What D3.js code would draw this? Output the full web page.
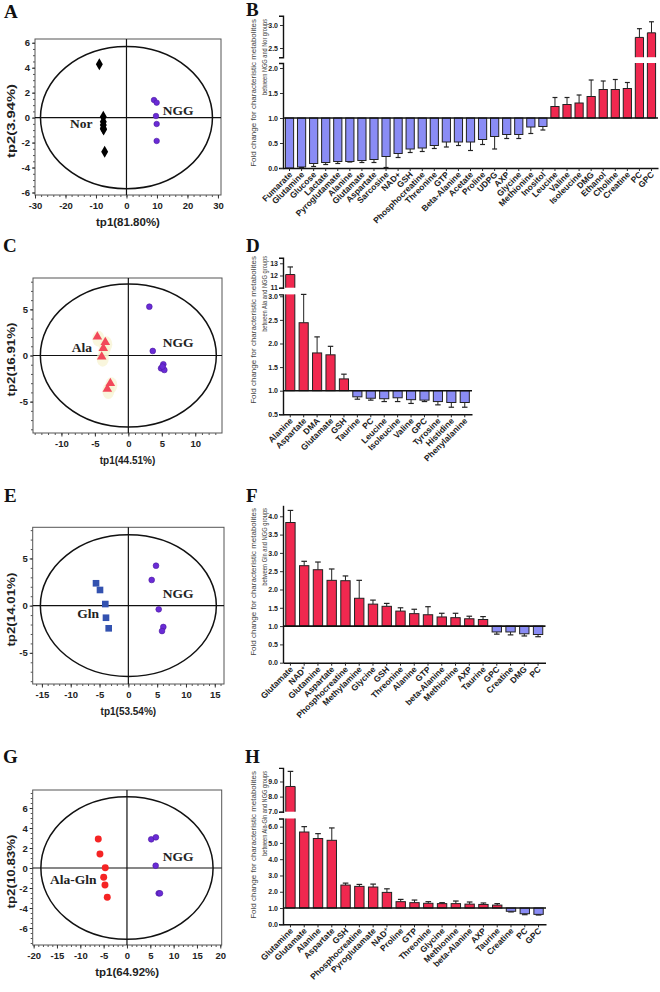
<!DOCTYPE html>
<html><head><meta charset="utf-8">
<script src="https://cdn.jsdelivr.net/npm/d3@7"></script>
<style>body{margin:0;background:#fff}svg{display:block}</style>
</head><body>
<svg id="c" width="660" height="992"></svg>
<script>
const SANS='"Liberation Sans", Arial, Helvetica, sans-serif';
const SERIF='"Liberation Serif", "Times New Roman", serif';
const RED='#f0284f', BLUE='#8a8cf5', PURPLE='#6a2bd6';

// ===== Score plot data (t1, t2) =====
const A_nor=[[-8.9,4.27],[-7.6,0.07],[-7.6,-0.33],[-7.6,-0.59],[-7.6,-0.86],[-7.5,-0.95],[-7.15,-2.73]];
const A_ngg=[[9.02,1.41],[9.9,1.2],[9.68,0.13],[9.9,-0.51],[9.9,-1.87]];
const A_ellipse=[28.2,5.7];
const A_xTicks=[-30,-20,-10,0,10,20,30], A_yTicks=[-6,-4,-2,0,2,4,6];

const C_ala=[[-4.63,2.04],[-3.44,1.43],[-3.74,0.78],[-3.98,-0.13],[-2.69,-3.01],[-3.14,-3.63]];
const C_ngg=[[3.14,5.29],[3.65,0.49],[5.23,-0.95],[4.89,-1.39],[5.38,-1.57],[5.1,-1.2]];
const C_ellipse=[13.15,7.75];
const C_xTicks=[-10,-5,0,5,10], C_yTicks=[-5,0,5];

const E_gln=[[-5.61,2.37],[-4.92,1.66],[-4.0,0.17],[-3.88,-1.28],[-3.41,-2.4]];
const E_ngg=[[4.8,4.23],[4.05,2.72],[5.27,-0.39],[6.07,-2.26],[5.84,-2.69]];
const E_ellipse=[15.27,7.5];
const E_xTicks=[-15,-10,-5,0,5,10,15], E_yTicks=[-5,0,5];

const G_alagln=[[-6.15,2.9],[-5.79,1.4],[-4.65,0.03],[-4.99,-0.93],[-4.71,-1.7],[-4.22,-2.93]];
const G_ngg=[[5.2,2.87],[6.2,3.07],[6.15,0.23],[6.8,-2.53],[7.07,-2.53]];
const G_ellipse=[18.45,7.13];
const G_xTicks=[-20,-15,-10,-5,0,5,10,15,20], G_yTicks=[-6,-4,-2,0,2,4,6];

// ===== Fold change data =====
const B_cats=["Fumarate","Glutamine","Glucose","Lactate","Pyroglutamate","Alanine","Glutamate","Aspartate","Sarcosine","NAD+","GSH","Phosphocreatine","Threonine","GTP","Beta-Alanine","Acetate","Proline","UDPG","AXP","Glycine","Methionine","Inositol","Leucine","Valine","Isoleucine","DMG","Ethanol","Choline","Creatine","PC","GPC"];
const B_vals=[0.0,0.02,0.09,0.11,0.13,0.13,0.15,0.17,0.23,0.29,0.38,0.40,0.45,0.52,0.52,0.52,0.57,0.63,0.67,0.67,0.82,0.83,1.23,1.27,1.30,1.43,1.57,1.57,1.59,2.73,2.83];
const B_errs=[0,0.01,0.06,0.04,0.04,0.01,0.04,0.06,0.22,0.08,0.07,0.07,0.06,0.10,0.07,0.17,0.10,0.25,0.08,0.08,0.13,0.07,0.18,0.14,0.16,0.33,0.17,0.20,0.12,0.19,0.24];

const D_cats=["Alanine","Aspartate","DMA","Glutamate","GSH","Taurine","PC","Leucine","Isoleucine","Valine","GPC","Tyrosine","Histidine","Phenylalanine"];
const D_vals=[12.08,2.44,1.80,1.76,1.25,0.87,0.84,0.83,0.85,0.81,0.80,0.77,0.75,0.75];
const D_errs=[0.62,0.60,0.34,0.18,0.10,0.05,0.04,0.06,0.08,0.08,0.03,0.07,0.10,0.10];

const F_cats=["Glutamate","NAD+","Glutamine","Aspartate","Phosphocreatine","Methylamine","Glycine","GSH","Threonine","Alanine","GTP","beta-Alanine","Methionine","AXP","Taurine","GPC","Creatine","DMG","PC"];
const F_vals=[3.83,2.65,2.54,2.25,2.24,1.76,1.60,1.54,1.41,1.34,1.31,1.25,1.23,1.20,1.18,0.84,0.84,0.79,0.77];
const F_errs=[0.33,0.12,0.21,0.31,0.13,0.49,0.11,0.08,0.09,0.12,0.22,0.10,0.12,0.07,0.08,0.06,0.08,0.06,0.06];

const H_cats=["Glutamine","Glutamate","Alanine","Aspartate","GSH","Phosphocreatine","Pyroglutamate","NAD+","Proline","GTP","Threonine","Glycine","Methionine","beta-Alanine","AXP","Taurine","Creatine","PC","GPC"];
const H_vals=[8.67,5.67,5.27,5.16,2.41,2.33,2.29,1.96,1.39,1.33,1.29,1.27,1.27,1.24,1.22,1.18,0.80,0.65,0.61];
const H_errs=[1.0,0.33,0.30,0.76,0.12,0.12,0.18,0.22,0.14,0.16,0.10,0.06,0.16,0.13,0.09,0.09,0.04,0.06,0.04];

const svg=d3.select('#c');

function letter(t,x,y){
  svg.append('text').attr('x',x).attr('y',y).text(t)
    .attr('font-family',SERIF).attr('font-weight','bold').attr('font-size',19).attr('fill','#111');
}

function styleAxis(ax,fs){
  ax.attr('font-family',SANS).attr('font-size',fs).attr('font-weight','bold');
  ax.selectAll('text').attr('fill','#222');
  ax.selectAll('line').attr('stroke','#333');
}

// vertical text fitted to a given length by horizontal scaling of the glyph run
function vText(g,x,y,txt,len,anchor,opts){
  const t=g.append('text').attr('text-anchor',anchor).text(txt)
    .attr('font-family',SANS).attr('font-size',opts.fs).attr('font-weight',opts.fw||'normal').attr('fill',opts.fill);
  const nat=t.node().getComputedTextLength()||len;
  t.attr('transform',`translate(${x},${y}) rotate(-90) scale(${len/nat},1)`);
  return t;
}

function scatter(c){
  const g=svg.append('g');
  const [l,r,t,b]=c.box;
  const x=d3.scaleLinear().domain(c.xDomain).range([l,r]);
  const y=d3.scaleLinear().domain(c.yDomain).range([b,t]);
  g.append('rect').attr('x',l).attr('y',t).attr('width',r-l).attr('height',b-t)
    .attr('fill','none').attr('stroke','#555').attr('stroke-width',1);
  const mx=g.append('g').attr('transform',`translate(0,${b})`)
    .call(d3.axisBottom(x).tickValues(d3.range(Math.ceil(c.xDomain[0]/c.xMinor)*c.xMinor,c.xDomain[1],c.xMinor)).tickSize(2).tickFormat(''));
  mx.select('.domain').remove(); mx.selectAll('line').attr('stroke','#555');
  const my=g.append('g').attr('transform',`translate(${l},0)`)
    .call(d3.axisLeft(y).tickValues(d3.range(Math.ceil(c.yDomain[0]/c.yMinor)*c.yMinor,c.yDomain[1],c.yMinor)).tickSize(2).tickFormat(''));
  my.select('.domain').remove(); my.selectAll('line').attr('stroke','#555');
  const ax=g.append('g').attr('transform',`translate(0,${b})`)
    .call(d3.axisBottom(x).tickValues(c.xTicks).tickSize(3.5).tickPadding(4).tickFormat(d=>String(d)));
  ax.select('.domain').remove(); styleAxis(ax,9.5);
  const ay=g.append('g').attr('transform',`translate(${l},0)`)
    .call(d3.axisLeft(y).tickValues(c.yTicks).tickSize(3).tickPadding(2).tickFormat(d=>String(d)));
  ay.select('.domain').remove(); styleAxis(ay,9.5);
  g.append('line').attr('x1',x(0)).attr('x2',x(0)).attr('y1',t).attr('y2',b).attr('stroke','#111').attr('stroke-width',1.2);
  g.append('line').attr('x1',l).attr('x2',r).attr('y1',y(0)).attr('y2',y(0)).attr('stroke','#111').attr('stroke-width',1.2);
  g.append('ellipse').attr('cx',x(0)).attr('cy',y(0))
    .attr('rx',x(c.ellipse[0])-x(0)).attr('ry',y(0)-y(c.ellipse[1]))
    .attr('fill','none').attr('stroke','#111').attr('stroke-width',1.5);
  c.groups.forEach(gr=>{
    if(gr.halo){
      g.selectAll(null).data(gr.pts).enter().append('ellipse')
        .attr('cx',d=>x(d[0])+1).attr('cy',d=>y(d[1])+2).attr('rx',6).attr('ry',8)
        .attr('fill','#f7f2cf').attr('opacity',0.7);
    }
    const sym=d3.symbol().type(gr.type).size(gr.size);
    g.selectAll(null).data(gr.pts).enter().append('path')
      .attr('d',sym).attr('transform',d=>`translate(${x(d[0])},${y(d[1])})`)
      .attr('fill',gr.color).attr('stroke',gr.stroke||'none').attr('stroke-width',0.6);
    g.append('text').attr('x',x(gr.labelAt[0])).attr('y',y(gr.labelAt[1])).text(gr.label)
      .attr('font-family',SERIF).attr('font-weight','bold').attr('font-size',13.5).attr('fill','#222');
  });
  g.append('text').attr('x',(l+r)/2).attr('y',b+31).attr('text-anchor','middle').text(c.xLabel)
    .attr('font-family',SANS).attr('font-weight','bold').attr('font-size',c.xfs).attr('fill','#222');
  vText(g,14.5,(t+b)/2+4,c.yLabel,74,'middle',{fs:11,fw:'bold',fill:'#222'});
}

function barPanel(c){
  const g=svg.append('g');
  const [x0,x1]=c.xr;
  const xb=d3.scaleBand().domain(c.cats).range(c.xr).paddingInner(0.32).paddingOuter(0.2);
  const bw=xb.bandwidth();
  const segs=c.segs.map(s=>Object.assign({},s,{sc:d3.scaleLinear().domain(s.domain).range(s.range)}));
  const low=segs[0], up=segs[1];
  const lowTop=low.domain[1];
  const base=low.sc(1);
  const cap=bw*0.6;
  function errBar(cx,y1,y2){
    g.append('line').attr('x1',cx).attr('x2',cx).attr('y1',y1).attr('y2',y2).attr('stroke','#222').attr('stroke-width',1);
    g.append('line').attr('x1',cx-cap/2).attr('x2',cx+cap/2).attr('y1',y2).attr('y2',y2).attr('stroke','#222').attr('stroke-width',1.2);
  }
  c.cats.forEach((cat,i)=>{
    const v=c.vals[i], e=c.errs[i];
    const bx=xb(cat), cx=bx+bw/2;
    if(v<1){
      errBar(cx,low.sc(v),low.sc(v-e));
      g.append('rect').attr('x',bx).attr('y',base).attr('width',bw).attr('height',Math.max(0,low.sc(v)-base))
        .attr('fill',BLUE).attr('stroke','#222').attr('stroke-width',1);
    } else if(!up || v<=lowTop){
      errBar(cx,low.sc(v),low.sc(v+e));
      g.append('rect').attr('x',bx).attr('y',low.sc(v)).attr('width',bw).attr('height',base-low.sc(v))
        .attr('fill',RED).attr('stroke','#222').attr('stroke-width',1);
    } else {
      const yl=low.sc(lowTop);
      g.append('rect').attr('x',bx).attr('y',yl).attr('width',bw).attr('height',base-yl).attr('fill',RED);
      g.append('path').attr('d',`M${bx},${yl}V${base}H${bx+bw}V${yl}`).attr('fill','none').attr('stroke','#222').attr('stroke-width',1);
      errBar(cx,up.sc(v),up.sc(v+e));
      const yb=up.sc(up.domain[0]), yt=up.sc(v);
      g.append('rect').attr('x',bx).attr('y',yt).attr('width',bw).attr('height',yb-yt).attr('fill',RED);
      g.append('path').attr('d',`M${bx},${yb}V${yt}H${bx+bw}V${yb}`).attr('fill','none').attr('stroke','#222').attr('stroke-width',1);
    }
  });
  g.append('line').attr('x1',x0).attr('x2',x1).attr('y1',base).attr('y2',base).attr('stroke','#111').attr('stroke-width',1.6);
  const yb=low.sc(low.domain[0]);
  const axb=g.append('g').attr('transform',`translate(0,${yb})`)
    .call(d3.axisBottom(xb).tickSize(3).tickSizeOuter(0).tickFormat(''));
  axb.select('.domain').attr('stroke','#111').attr('stroke-width',1.6);
  axb.selectAll('line').attr('stroke','#222');
  c.cats.forEach(cat=>{
    const cx=xb(cat)+bw/2;
    const tx=g.append('text').attr('transform',`translate(${cx-1},${yb+3}) rotate(-45)`)
      .attr('text-anchor','end').attr('dy','0.7em')
      .attr('font-family',SANS).attr('font-weight','bold').attr('font-size',8.5).attr('fill','#222');
    if(cat==='NAD+' && c.supPlus){
      tx.append('tspan').text('NAD');
      tx.append('tspan').text('+').attr('font-size',6).attr('dy','-0.45em');
    } else tx.text(cat);
  });
  segs.forEach(s=>{
    const ax=g.append('g').attr('transform',`translate(${x0},0)`)
      .call(d3.axisLeft(s.sc).tickValues(s.ticks).tickSize(3).tickSizeOuter(segs.length>1?4:0).tickPadding(2).tickFormat(d3.format(s.fmt)));
    styleAxis(ax,7);
    ax.select('.domain').attr('stroke','#111').attr('stroke-width',1.4);
  });
  const tt=c.titleTop;
  vText(g,256,tt,'Fold change for characteristic metabolites',148,'end',{fs:8,fill:'#444'});
  vText(g,267,tt,c.line2,c.line2len,'end',{fs:8,fill:'#444'});
}

// ===== Panels =====
letter('A',4,18);
scatter({box:[35,221,39,195],xDomain:[-30,31],yDomain:[-6.2,6.3],xTicks:A_xTicks,yTicks:A_yTicks,xMinor:2,yMinor:0.5,
  ellipse:A_ellipse,xLabel:'tp1(81.80%)',yLabel:'tp2(3.94%)',xfs:11.5,
  groups:[{pts:A_nor,type:d3.symbolDiamond,size:42,color:'#000',label:'Nor',labelAt:[-18.5,-0.86]},
          {pts:A_ngg,type:d3.symbolCircle,size:24,color:PURPLE,stroke:'#4a1aa0',label:'NGG',labelAt:[11.9,0.2]}]});

letter('B',246,16);
barPanel({xr:[283,658],cats:B_cats,vals:B_vals,errs:B_errs,titleTop:19,line2:'between NGG and Nor groups',line2len:76,supPlus:false,
  segs:[{domain:[0,2.1],range:[168,63],ticks:[0,0.5,1,1.5,2],fmt:'.1f'},{domain:[2.3,3.2],range:[57.2,15.8],ticks:[2.5,3.0],fmt:'.1f'}]});

letter('C',3,252);
scatter({box:[33,222,278,433],xDomain:[-14.25,14],yDomain:[-8.4,8.4],xTicks:C_xTicks,yTicks:C_yTicks,xMinor:1,yMinor:1,
  ellipse:C_ellipse,xLabel:'tp1(44.51%)',yLabel:'tp2(16.91%)',xfs:10,
  groups:[{pts:C_ala,type:d3.symbolTriangle,size:40,color:'#f2485a',halo:true,label:'Ala',labelAt:[-8.46,0.38]},
          {pts:C_ngg,type:d3.symbolCircle,size:26,color:PURPLE,stroke:'#4a1aa0',label:'NGG',labelAt:[5.14,0.95]}]});

letter('D',246,252);
barPanel({xr:[283,472],cats:D_cats,vals:D_vals,errs:D_errs,titleTop:256,line2:'between Ala and NGG groups',line2len:76,supPlus:false,
  segs:[{domain:[0.5,3.04],range:[414.3,294.4],ticks:[0.5,1,1.5,2,2.5,3],fmt:'.1f'},{domain:[11,13.45],range:[287.7,257.8],ticks:[11,12,13],fmt:'d'}]});

letter('E',4,502);
scatter({box:[32.7,224,527.3,684],xDomain:[-16.6,16.6],yDomain:[-8.3,8.3],xTicks:E_xTicks,yTicks:E_yTicks,xMinor:1,yMinor:1,
  ellipse:E_ellipse,xLabel:'tp1(53.54%)',yLabel:'tp2(14.01%)',xfs:10,
  groups:[{pts:E_gln,type:d3.symbolSquare,size:44,color:'#3352b0',label:'Gln',labelAt:[-8.86,-1.28]},
          {pts:E_ngg,type:d3.symbolCircle,size:26,color:PURPLE,stroke:'#4a1aa0',label:'NGG',labelAt:[5.96,0.78]}]});

letter('F',246,502);
barPanel({xr:[283,545.5],cats:F_cats,vals:F_vals,errs:F_errs,titleTop:508,line2:'between Gln and NGG groups',line2len:78,supPlus:true,
  segs:[{domain:[0,4.3],range:[662.7,505.3],ticks:[0,0.5,1,1.5,2,2.5,3,3.5,4],fmt:'.1f'}]});

letter('G',3,763);
scatter({box:[32.7,221.7,790,945],xDomain:[-20.2,20.3],yDomain:[-7.7,7.8],xTicks:G_xTicks,yTicks:G_yTicks,xMinor:1,yMinor:0.5,
  ellipse:G_ellipse,xLabel:'tp1(64.92%)',yLabel:'tp2(10.83%)',xfs:11.5,
  groups:[{pts:G_alagln,type:d3.symbolCircle,size:38,color:'#f52424',label:'Ala-Gln',labelAt:[-16.5,-1.6]},
          {pts:G_ngg,type:d3.symbolCircle,size:26,color:PURPLE,stroke:'#4a1aa0',label:'NGG',labelAt:[7.66,0.73]}]});

letter('H',245,763);
barPanel({xr:[283,546],cats:H_cats,vals:H_vals,errs:H_errs,titleTop:771,line2:'between Ala-Gln and NGG groups',line2len:85,supPlus:true,
  segs:[{domain:[0,6.5],range:[924.3,818.5],ticks:[0,1,2,3,4,5,6],fmt:'.1f'},{domain:[7,9.9],range:[811.7,767.9],ticks:[7,8,9],fmt:'.1f'}]});
</script>
</body></html>
